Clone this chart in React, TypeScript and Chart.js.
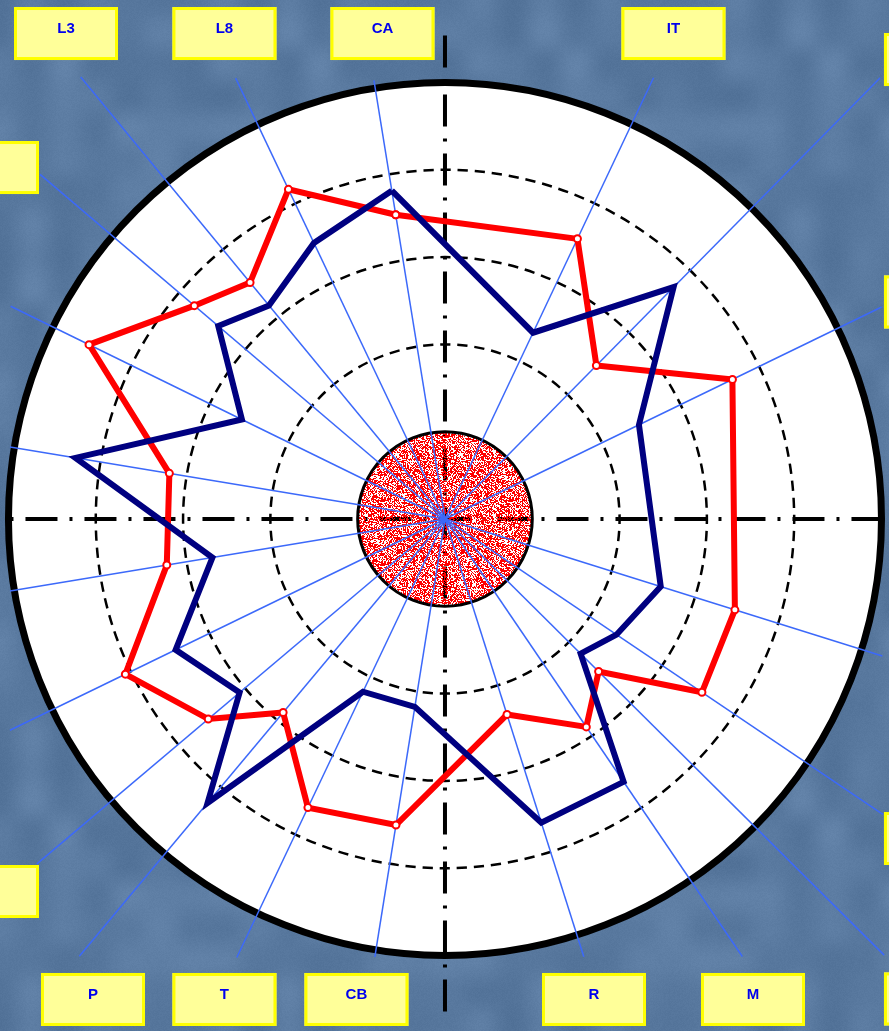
import React, { useEffect, useRef } from "react";
import { Chart, registerables } from "chart.js";

Chart.register(...registerables);

// ---- data (angles clockwise from 12 o'clock, radii in ring units) ----
const SPOKE_LABELS = ["CA", "IT", "", "", "", "", "", "M", "R", "CB", "T", "P", "", "", "", "", "", "", "L3", "L8"];
const SPOKE_ANGLES = [350.8, 25.3, 44.6, 64.1, 107.4, 124.0, 134.8, 145.8, 162.4, 189.1, 205.4, 219.9, 229.8, 244.1, 260.6, 279.4, 296.1, 310.4, 320.5, 334.6];
const SPOKE_LENGTHS = [5.09, 5.59, 7.1, 5.56, 5.25, 6.05, 7.09, 6.06, 5.26, 5.08, 5.56, 6.53, 6.12, 5.54, 5.05, 5.05, 5.54, 6.09, 6.56, 5.59];
const RED_VALUES = [3.53, 3.55, 2.47, 3.66, 3.48, 3.55, 2.48, 2.88, 2.35, 3.55, 3.66, 2.89, 3.55, 4.07, 3.23, 3.2, 4.54, 3.77, 3.51, 4.18];
const NAVY_VALUES = [3.81, 2.36, 3.73, 2.47, 2.59, 2.37, 2.19, 3.64, 3.65, 2.18, 2.19, 4.24, 3.08, 3.43, 2.7, 4.29, 2.59, 3.41, 3.17, 3.5];
const RING_VALUES = [2, 3, 4];
const HUB_VALUE = 1;
const RIM_VALUE = 5;

// label boxes (text + centre in chart units)
const BOX_TEXTS = ["L3", "L8", "CA", "IT", "", "", "", "", "", "", "P", "T", "CB", "R", "M"];
const BOX_X = [-4.341, -2.526, -0.716, 2.617, 5.624, 5.624, 5.624, 5.624, -5.246, -5.246, -4.032, -2.526, -1.014, 1.707, 3.528];
const BOX_Y = [5.561, 5.561, 5.561, 5.561, 5.263, 2.486, -3.66, -5.498, 4.026, -4.267, -5.504, -5.504, -5.504, -5.504, -5.504];

// ---- layout ----
const W = 889;
const H = 1031;
const X_MIN = -5.097;
const X_MAX = 5.086;
const Y_MIN = -5.865;
const Y_MAX = 5.945;
const CROSS_LEFT = -5.06;
const CROSS_RIGHT = 5.1;
const CROSS_TOP = 5.62;
const CROSS_BOTTOM = -5.7;

const BG = "rgb(90,122,160)";
const SPOKE_COLOR = "rgb(60,105,250)";
const RED = "#ff0000";
const NAVY = "#000080";

function toXY(angleDeg: number, r: number) {
  const a = (angleDeg * Math.PI) / 180;
  return { x: r * Math.sin(a), y: r * Math.cos(a) };
}

function hash(xx: number, yy: number, s: number) {
  let h = (xx * 374761393 + yy * 668265263 + s * 982451653) >>> 0;
  h = Math.imul(h ^ (h >>> 13), 1274126177) >>> 0;
  return ((h ^ (h >>> 16)) >>> 0) / 4294967296;
}

function makeSpeckle(): HTMLCanvasElement {
  const c = document.createElement("canvas");
  c.width = 64;
  c.height = 64;
  const g = c.getContext("2d")!;
  const img = g.createImageData(64, 64);
  for (let yy = 0; yy < 64; yy++) {
    for (let xx = 0; xx < 64; xx++) {
      const i = (yy * 64 + xx) * 4;
      if (hash(xx, yy, 1) < 0.58) {
        img.data[i] = 255;
        img.data[i + 1] = 0;
        img.data[i + 2] = 0;
        img.data[i + 3] = 255;
      } else {
        img.data[i + 3] = 0;
      }
    }
  }
  g.putImageData(img, 0, 0);
  return c;
}

function makeTexture(): HTMLCanvasElement {
  // soft mottled paper texture for the backdrop
  const n = 256;
  const c = document.createElement("canvas");
  c.width = n;
  c.height = n;
  const g = c.getContext("2d")!;
  const img = g.createImageData(n, n);
  const cell = 32;
  const grid = n / cell;
  const val = (gx: number, gy: number) => hash(((gx % grid) + grid) % grid, ((gy % grid) + grid) % grid, 7);
  const smooth = (t: number) => t * t * (3 - 2 * t);
  for (let yy = 0; yy < n; yy++) {
    for (let xx = 0; xx < n; xx++) {
      const gx = Math.floor(xx / cell);
      const gy = Math.floor(yy / cell);
      const tx = smooth((xx % cell) / cell);
      const ty = smooth((yy % cell) / cell);
      const a = val(gx, gy);
      const b = val(gx + 1, gy);
      const cc = val(gx, gy + 1);
      const d = val(gx + 1, gy + 1);
      const v = (a * (1 - tx) + b * tx) * (1 - ty) + (cc * (1 - tx) + d * tx) * ty;
      const fine = hash(xx, yy, 3) - 0.5;
      const k = (v - 0.5) * 18 + fine * 5;
      const i = (yy * n + xx) * 4;
      img.data[i] = 90 + k;
      img.data[i + 1] = 122 + k;
      img.data[i + 2] = 160 + k;
      img.data[i + 3] = 255;
    }
  }
  g.putImageData(img, 0, 0);
  return c;
}

const decorPlugin = {
  id: "decor",
  beforeDatasetsDraw(chart: any) {
    const { ctx } = chart;
    const xs = chart.scales.x;
    const ys = chart.scales.y;
    const cx = xs.getPixelForValue(0);
    const cy = ys.getPixelForValue(0);
    const u = xs.getPixelForValue(1) - cx;
    ctx.save();

    // background
    ctx.fillStyle = BG;
    ctx.fillRect(0, 0, chart.width, chart.height);
    const tex = ctx.createPattern(makeTexture(), "repeat");
    if (tex) {
      ctx.fillStyle = tex;
      ctx.fillRect(0, 0, chart.width, chart.height);
    }

    // label boxes
    const bw = 104;
    const bh = 53;
    for (let i = 0; i < BOX_TEXTS.length; i++) {
      const bx = xs.getPixelForValue(BOX_X[i]);
      const by = ys.getPixelForValue(BOX_Y[i]);
      ctx.fillStyle = "#ffff99";
      ctx.fillRect(bx - bw / 2, by - bh / 2, bw, bh);
      ctx.strokeStyle = "#ffff00";
      ctx.lineWidth = 3;
      ctx.strokeRect(bx - bw / 2 + 1.5, by - bh / 2 + 1.5, bw - 3, bh - 3);
      if (BOX_TEXTS[i]) {
        ctx.fillStyle = "#0000ee";
        ctx.font = 'bold 15px "Liberation Sans", Arial, sans-serif';
        ctx.textAlign = "center";
        ctx.textBaseline = "middle";
        ctx.fillText(BOX_TEXTS[i], bx, by - 5);
      }
    }

    // white disc
    ctx.beginPath();
    ctx.arc(cx, cy, RIM_VALUE * u, 0, Math.PI * 2);
    ctx.fillStyle = "#ffffff";
    ctx.fill();

    // dashed rings
    ctx.strokeStyle = "#000000";
    ctx.lineWidth = 2.5;
    for (const rv of RING_VALUES) {
      const r = rv * u;
      const circ = 2 * Math.PI * r;
      const n = Math.max(4, Math.round(circ / 17 / 4) * 4);
      const period = circ / n;
      const dash = period * 0.6;
      ctx.setLineDash([dash, period - dash]);
      ctx.lineDashOffset = dash / 2;
      ctx.beginPath();
      ctx.arc(cx, cy, r, 0, Math.PI * 2);
      ctx.stroke();
    }

    // dash-dot crosshair
    const period = 59;
    ctx.setLineDash([32, 12, 3, 12]);
    ctx.lineWidth = 4;
    ctx.strokeStyle = "#000000";
    const xl = xs.getPixelForValue(CROSS_LEFT);
    const xr = xs.getPixelForValue(CROSS_RIGHT);
    const dotX = cx + 39;
    ctx.lineDashOffset = (((45.5 - (dotX - xl)) % period) + period) % period;
    ctx.beginPath();
    ctx.moveTo(xl, cy);
    ctx.lineTo(xr, cy);
    ctx.stroke();
    const yt = ys.getPixelForValue(CROSS_TOP);
    const yb = ys.getPixelForValue(CROSS_BOTTOM);
    const dotY = cy + 34;
    ctx.lineDashOffset = (((45.5 - (dotY - yt)) % period) + period) % period;
    ctx.beginPath();
    ctx.moveTo(cx, yt);
    ctx.lineTo(cx, yb);
    ctx.stroke();
    ctx.setLineDash([]);

    // speckled hub
    const hubR = HUB_VALUE * u;
    ctx.save();
    ctx.beginPath();
    ctx.arc(cx, cy, hubR, 0, Math.PI * 2);
    ctx.clip();
    const pat = ctx.createPattern(makeSpeckle(), "repeat");
    if (pat) {
      ctx.fillStyle = pat;
      ctx.fillRect(cx - hubR, cy - hubR, hubR * 2, hubR * 2);
    }
    ctx.restore();
    ctx.beginPath();
    ctx.arc(cx, cy, hubR, 0, Math.PI * 2);
    ctx.lineWidth = 3;
    ctx.strokeStyle = "#000000";
    ctx.stroke();

    // rim
    ctx.beginPath();
    ctx.arc(cx, cy, RIM_VALUE * u, 0, Math.PI * 2);
    ctx.lineWidth = 7;
    ctx.strokeStyle = "#000000";
    ctx.stroke();

    ctx.restore();
  },
};

export default function App() {
  const ref = useRef<HTMLCanvasElement | null>(null);

  useEffect(() => {
    document.body.style.margin = "0";
    const canvas = ref.current;
    if (!canvas) return;

    const closed = (vals: number[]) => {
      const pts = vals.map((v, i) => toXY(SPOKE_ANGLES[i], v));
      pts.push(pts[0]);
      return pts;
    };

    const spokeSets = SPOKE_ANGLES.map((a, i) => ({
      label: SPOKE_LABELS[i] || `spoke ${i + 1}`,
      data: [{ x: 0, y: 0 }, toXY(a, SPOKE_LENGTHS[i])],
      showLine: true,
      borderColor: SPOKE_COLOR,
      borderWidth: 1.5,
      pointRadius: 0,
      order: 2,
    }));

    const chart = new Chart(canvas, {
      type: "scatter",
      data: {
        datasets: [
          {
            label: "Series B",
            data: closed(NAVY_VALUES),
            showLine: true,
            borderColor: NAVY,
            borderWidth: 6,
            borderJoinStyle: "miter",
            pointRadius: 0,
            order: 0,
          },
          {
            label: "Series A",
            data: closed(RED_VALUES),
            showLine: true,
            borderColor: RED,
            borderWidth: 6,
            borderJoinStyle: "miter",
            pointRadius: 3.5,
            pointBorderWidth: 2,
            pointBorderColor: RED,
            pointBackgroundColor: "#ffffff",
            order: 1,
          },
          ...spokeSets,
        ] as any,
      },
      options: {
        responsive: false,
        animation: false,
        events: [],
        layout: { padding: 0, autoPadding: false },
        plugins: { legend: { display: false }, tooltip: { enabled: false } },
        scales: {
          x: { type: "linear", display: false, min: X_MIN, max: X_MAX },
          y: { type: "linear", display: false, min: Y_MIN, max: Y_MAX },
        },
      } as any,
      plugins: [decorPlugin],
    });
    return () => chart.destroy();
  }, []);

  return (
    <div style={{ position: "fixed", left: 0, top: 0, width: W, height: H }}>
      <canvas ref={ref} width={W} height={H} style={{ display: "block" }} />
    </div>
  );
}
